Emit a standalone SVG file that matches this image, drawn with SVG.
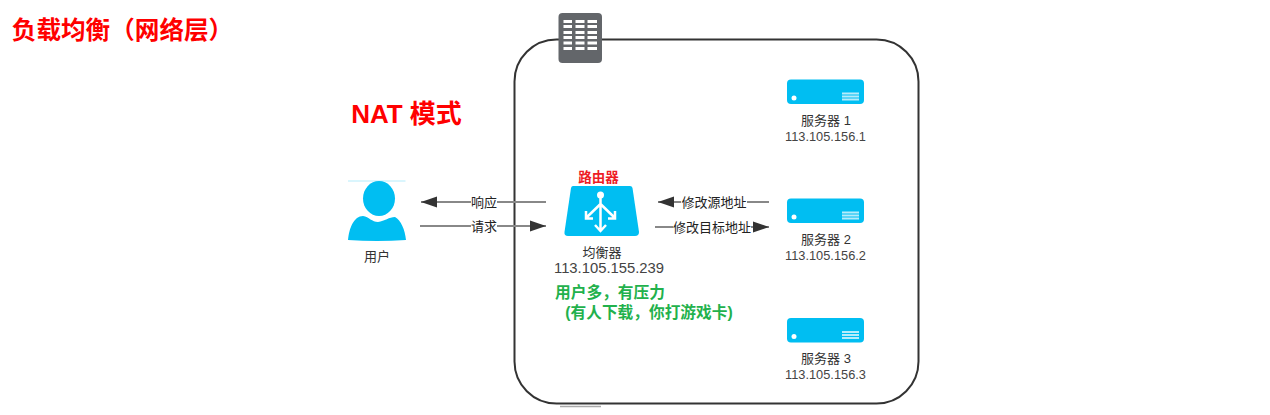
<svg xmlns="http://www.w3.org/2000/svg" width="1270" height="415" viewBox="0 0 1270 415">
<defs>
<marker id="ah" markerUnits="userSpaceOnUse" markerWidth="18" markerHeight="12" refX="16" refY="6" orient="auto-start-reverse"><path d="M0 0.5L16 6L0 11.5Z" fill="#333"/></marker>
<g id="srv"><rect x="787" y="0" width="77" height="24.500" rx="4" fill="#00bef2"/><circle cx="794" cy="18.500" r="2.500" fill="#fff"/><path d="M842 14H859M842 17H859M842 20H859" stroke="#b5ecfb" stroke-width="1.800"/></g>
</defs>
<style>
text{font-family:"Liberation Sans","Noto Sans CJK SC",sans-serif;fill:#333;font-size:13px;text-anchor:middle}
.t{fill:#222}
.b{font-weight:bold}
.ip{font-size:12.800px;fill:#444}
.g{font-size:15.700px;fill:#22b14c}
.c{fill:none;stroke:#888;stroke-width:2}
.lb{fill:#fff}
.w{stroke:#fff;stroke-width:2.500;fill:none}
</style>
<rect width="1270" height="415" fill="#fff"/>
<g id="title"><text x="122.500" y="39" class="b" style="font-size:24.600px;fill:#f00">负载均衡（网络层）</text></g>
<g id="mode"><text x="406.500" y="123" class="b" style="font-size:26px;fill:#f00">NAT 模式</text></g>
<g id="container">
<rect x="514.500" y="39.500" width="404" height="364" rx="42" fill="none" stroke="#333" stroke-width="2"/>
<path d="M560 406.500H601" stroke="#aaa" stroke-width="1.500"/>
<rect x="558.500" y="13" width="43.500" height="50" rx="4" fill="#63666a"/>
<path d="M563.500 21.500H572M563.500 26.500H572M563.500 32.500H572M563.500 37.500H572M563.500 43H572M563.500 48.500H572M575.500 21.500H584.500M575.500 26.500H584.500M575.500 32.500H584.500M575.500 37.500H584.500M575.500 43H584.500M575.500 48.500H584.500M587.500 21.500H597M587.500 26.500H597M587.500 32.500H597M587.500 37.500H597M587.500 43H597M587.500 48.500H597" stroke="#fff" stroke-width="3"/>
</g>
<g id="connectors">
<path class="c" d="M546 202H421" marker-end="url(#ah)"/>
<path class="c" d="M420 226H546" marker-end="url(#ah)"/>
<path class="c" d="M769 202H658" marker-end="url(#ah)"/>
<path class="c" d="M655 227H769" marker-end="url(#ah)"/>
<rect class="lb" x="471" y="195" width="26" height="15"/>
<rect class="lb" x="471" y="219" width="26" height="15"/>
<rect class="lb" x="681" y="195" width="66" height="15"/>
<rect class="lb" x="673" y="220" width="78" height="15"/>
<text class="t" x="484" y="207">响应</text>
<text class="t" x="484" y="231">请求</text>
<text class="t" x="714" y="207">修改源地址</text>
<text class="t" x="712" y="232">修改目标地址</text>
</g>
<g id="user">
<path d="M348 181H405.500" stroke="#b5ecfb" stroke-width="1"/>
<ellipse cx="379" cy="198.500" rx="16" ry="17.500" fill="#00bef2"/>
<path d="M348 240C349 228 354 216 363 216C369 217 372 222 378 222C385 221 389 217 395 217C401 220 405 230 406 240Q377 242 348 240Z" fill="#00bef2"/>
<text x="377" y="261">用户</text>
</g>
<g id="balancer">
<text x="598.500" y="182" class="b" style="font-size:13.500px;fill:#ee1c25">路由器</text>
<path d="M573 186H630Q632 186 632.500 188L639 232Q639 236 635 236H568Q564 236 564.500 232L571 188Q571.500 186 573 186Z" fill="#00bef2"/>
<circle cx="600.500" cy="195" r="3.500" fill="#fff"/>
<path class="w" d="M600.500 197V230M600.500 204L586 218M600.500 204L615 218M595 225L600.500 231L606 225M586 211V218.500H593M615 211V218.500H608"/>
<text x="602" y="256.500">均衡器</text>
<text x="609" y="273" style="font-size:14.800px;fill:#444">113.105.155.239</text>
</g>
<g id="note">
<text x="610" y="298" class="b g">用户多，有压力</text>
<text x="649" y="318" class="b g">(有人下载，你打游戏卡)</text>
</g>
<g id="server1"><use href="#srv" y="79.500"/><text x="826" y="124.500">服务器 1</text><text x="825.500" y="141" class="ip">113.105.156.1</text></g>
<g id="server2"><use href="#srv" y="198.500"/><text x="826" y="243.500">服务器 2</text><text x="825.500" y="260" class="ip">113.105.156.2</text></g>
<g id="server3"><use href="#srv" y="318"/><text x="826" y="362.500">服务器 3</text><text x="825.500" y="379" class="ip">113.105.156.3</text></g>
</svg>
